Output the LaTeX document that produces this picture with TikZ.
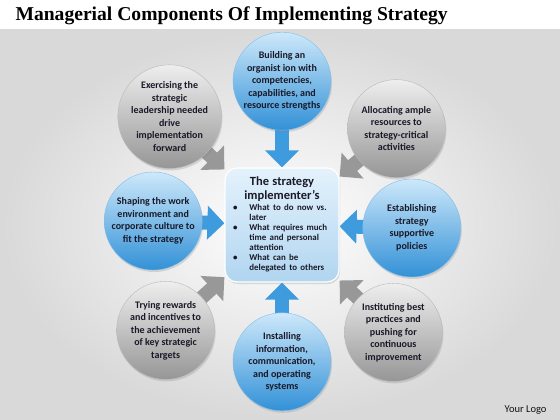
\documentclass[tikz,border=0pt]{standalone}
\usepackage{fontspec}
\setmainfont{Carlito}
\newfontfamily\titlefont{Liberation Serif}
\usetikzlibrary{positioning,arrows.meta,shadows,backgrounds}

\definecolor{blueLt}{RGB}{205,232,250}
\definecolor{blueDk}{RGB}{50,145,215}
\definecolor{arrowBlue}{RGB}{62,155,222}
\definecolor{grayLt}{RGB}{238,238,238}
\definecolor{grayDk}{RGB}{150,150,150}
\definecolor{arrowGray}{RGB}{152,152,152}
\definecolor{boxLt}{RGB}{228,242,252}
\definecolor{boxDk}{RGB}{176,213,240}
\definecolor{inkDark}{RGB}{25,25,40}

\pgfdeclarelayer{backdrop}
\pgfsetlayers{backdrop,background,main}

\tikzset{
  comp/.style={circle, minimum size=98pt, inner sep=0pt, align=center,
    font=\bfseries\fontsize{10}{12.5}\selectfont, text=inkDark,
    drop shadow={opacity=0.25, shadow xshift=1pt, shadow yshift=-2pt}},
  blue comp/.style={comp, top color=blueLt, bottom color=blueDk, draw=blueDk!60},
  gray comp/.style={comp, top color=grayLt, bottom color=grayDk, draw=gray!55},
  blue arrow/.style={draw=arrowBlue, line width=14pt, -{Triangle[length=17pt,width=33pt]}},
  gray arrow/.style={draw=arrowGray, line width=14pt, -{Triangle[length=17pt,width=33pt]}},
  core/.style={rectangle, rounded corners=12pt, minimum width=114pt, minimum height=114pt,
    inner sep=0pt, text width=110pt, top color=boxLt, bottom color=boxDk,
    draw=white, line width=1.2pt, text=inkDark,
    drop shadow={opacity=0.25, shadow xshift=1pt, shadow yshift=-2pt}}
}

\begin{document}
\begin{tikzpicture}[x=1pt, y=-1pt]
\useasboundingbox (0,0) rectangle (560,420);
\begin{pgfonlayer}{backdrop}
\fill[white] (0,0) rectangle (560,30);
\shade[inner color=white, outer color=gray!30] (0,30) rectangle (560,420);
\end{pgfonlayer}

\node[anchor=base west, font=\titlefont\bfseries\fontsize{19.6}{21}\selectfont] (title) at (12,21)
  {Managerial Components Of Implementing Strategy};

% central box
\node[core] (box) at (282,225) {%
  {\centering\bfseries\fontsize{12.5}{14.5}\selectfont The strategy\\ implementer's\par}
  \vspace{1pt}
  {\bfseries\fontsize{8.9}{10}\selectfont
  \begin{tabular}{@{\hspace{6pt}}l@{\hspace{12pt}}l@{}}
  \textbullet & What to do now vs.\\
              & later\\
  \textbullet & What requires much\\
              & time and personal\\
              & attention\\
  \textbullet & What can be\\
              & delegated to others
  \end{tabular}\par}};

% blue components
\node[blue comp, above=37pt of box] (top) {Building an\\organist ion with\\competencies,\\capabilities, and\\resource strengths};
\node[blue comp, below=30pt of box] (bottom) {Installing\\information,\\communication,\\and operating\\systems};
\node[blue comp, left=22pt of box, yshift=4pt] (left) {Shaping the work\\environment and\\corporate culture to\\fit the strategy};
\node[blue comp, right=23pt of box, yshift=-3pt] (right) {Establishing\\strategy\\supportive\\policies};

% gray components
\node[gray comp, above left=14pt and 18pt of box] (tl) {Exercising the\\strategic\\leadership needed\\drive\\implementation\\forward};
\node[gray comp, above right=4pt and 22pt of box] (tr) {Allocating ample\\resources to\\strategy-critical\\activities};
\node[gray comp, below left=13pt and 24pt of box] (bl) {Trying rewards\\and incentives to\\the achievement\\of key strategic\\targets};
\node[gray comp, below right=15pt and 19pt of box] (br) {Instituting best\\practices and\\pushing for\\continuous\\improvement};

\begin{pgfonlayer}{background}
\draw[blue arrow] (top.center) -- (box);
\draw[blue arrow] (bottom.center) -- (box);
\draw[blue arrow] (left.center) -- (box);
\draw[blue arrow] (right.center) -- (box);
\draw[gray arrow] (tl.center) -- (box);
\draw[gray arrow] (tr.center) -- (box);
\draw[gray arrow] (bl.center) -- (box);
\draw[gray arrow] (br.center) -- (box);
\end{pgfonlayer}

\node[anchor=base east, font=\fontsize{10.5}{12}\selectfont, text=gray!15!black] (logo) at (550,412) {Your Logo};
\end{tikzpicture}
\end{document}
